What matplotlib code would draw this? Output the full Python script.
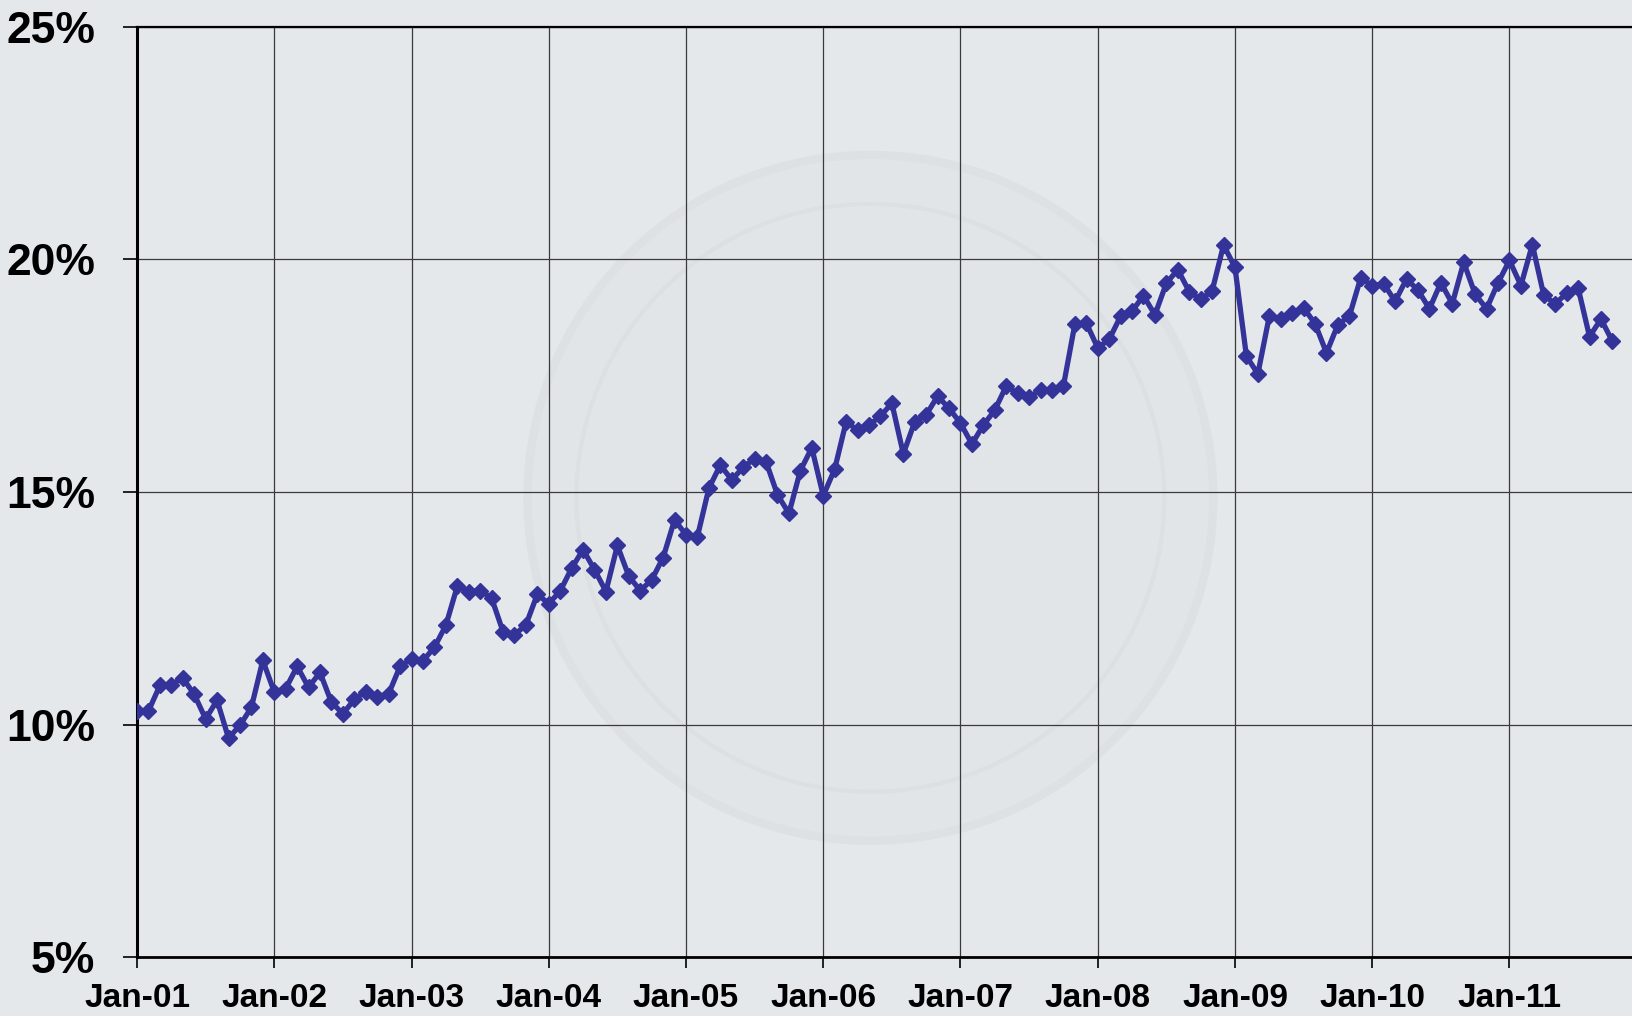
import matplotlib
matplotlib.use("Agg")
import matplotlib.pyplot as plt
from matplotlib.patches import Ellipse

# monthly values, Jan-01 .. Oct-11 (percent)
valores = [
    10.30, 10.29, 10.84, 10.86, 11.00, 10.65, 10.12, 10.52, 9.71, 9.98, 10.37, 11.38,
    10.70, 10.77, 11.25, 10.80, 11.12, 10.48, 10.23, 10.54, 10.71, 10.60, 10.66, 11.25,
    11.41, 11.37, 11.66, 12.13, 12.97, 12.86, 12.88, 12.72, 12.00, 11.93, 12.14, 12.80,
    12.60, 12.87, 13.36, 13.76, 13.33, 12.86, 13.85, 13.19, 12.88, 13.11, 13.59, 14.40,
    14.08, 14.04, 15.08, 15.58, 15.26, 15.53, 15.72, 15.65, 14.94, 14.54, 15.46, 15.95,
    14.92, 15.49, 16.51, 16.33, 16.44, 16.63, 16.91, 15.82, 16.51, 16.66, 17.06, 16.80,
    16.48, 16.03, 16.44, 16.76, 17.28, 17.12, 17.04, 17.19, 17.19, 17.28, 18.61, 18.63,
    18.10, 18.28, 18.78, 18.89, 19.22, 18.81, 19.49, 19.78, 19.31, 19.14, 19.32, 20.31,
    19.83, 17.92, 17.54, 18.78, 18.72, 18.84, 18.96, 18.62, 17.99, 18.60, 18.78, 19.61,
    19.43, 19.48, 19.10, 19.58, 19.34, 18.94, 19.50, 19.05, 19.94, 19.25, 18.94, 19.50,
    19.98, 19.44, 20.32, 19.23, 19.05, 19.27, 19.39, 18.34, 18.72, 18.24,
]
meses = list(range(len(valores)))

etiquetas_x = ['Jan-01', 'Jan-02', 'Jan-03', 'Jan-04', 'Jan-05', 'Jan-06',
               'Jan-07', 'Jan-08', 'Jan-09', 'Jan-10', 'Jan-11']
posiciones_x = [12 * i for i in range(len(etiquetas_x))]
valores_y = [5, 10, 15, 20, 25]
etiquetas_y = ['5%', '10%', '15%', '20%', '25%']

plt.rcParams['font.family'] = ['Liberation Sans', 'DejaVu Sans']
fondo = '#e4e8eb'

fig = plt.figure(figsize=(16.33, 10.16), dpi=100, facecolor=fondo)
ax = fig.add_axes([0.0839, 0.058, 0.9161, 0.9155])
ax.set_facecolor(fondo)

# marca de agua tenue (circulo en coordenadas de figura, detras de la rejilla)
aspecto = 16.33 / 10.16
fondo_marca = Ellipse((0.533, 0.51), 0.42, 0.42 * aspecto, transform=fig.transFigure,
                      facecolor='#e2e5e8', edgecolor='#dee1e4', linewidth=6, zorder=0.1)
ax.add_patch(fondo_marca)
anillo = Ellipse((0.533, 0.51), 0.36, 0.36 * aspecto, transform=fig.transFigure,
                 fill=False, edgecolor='#dde0e3', linewidth=3, zorder=0.2)
ax.add_patch(anillo)

ax.plot(meses, valores, color='#333399', linewidth=3.8, marker='D',
        markersize=8, markeredgecolor='#333399', zorder=3)

ax.set_xlim(0, 130.8)
ax.set_ylim(5, 25)
ax.set_xticks(posiciones_x)
ax.set_xticklabels(etiquetas_x, fontsize=24, fontweight='bold')
ax.set_yticks(valores_y)
ax.set_yticklabels(etiquetas_y, fontsize=32, fontweight='bold')
ax.tick_params(axis='x', direction='out', length=8, width=1.2, pad=11, color='black')
ax.tick_params(axis='y', direction='out', length=10, width=1.2, pad=20, color='black')

ax.grid(True, color='#3a3a3a', linewidth=0.9, zorder=0.5)
ax.set_axisbelow(True)

ax.spines['left'].set_linewidth(2.2)
ax.spines['bottom'].set_linewidth(2.0)
ax.spines['top'].set_linewidth(1.6)
ax.spines['right'].set_visible(False)

fig.savefig('out.png', dpi=100, facecolor=fondo)
